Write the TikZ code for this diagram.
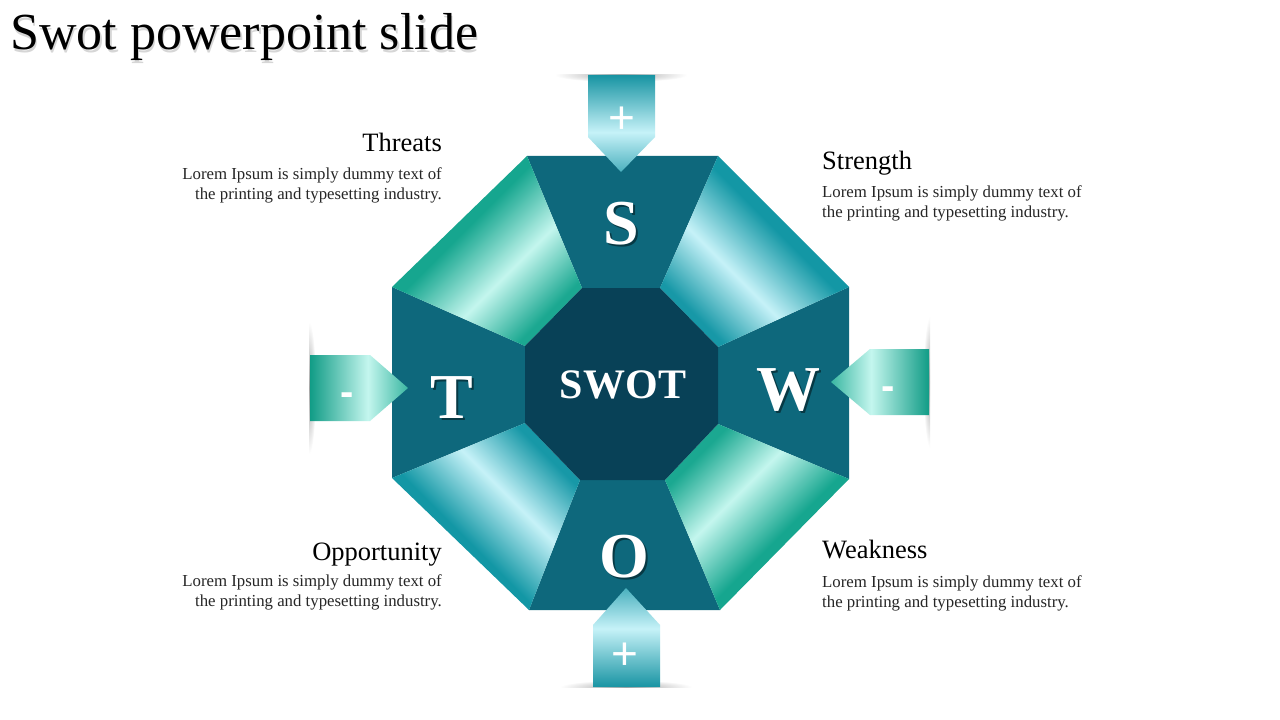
\documentclass[tikz,border=0pt]{standalone}
\usepackage{fontspec}
\setmainfont{Liberation Serif}
\newfontfamily\signfont{Liberation Sans}
\usetikzlibrary{calc}
\definecolor{segdark}{HTML}{0E687C}
\definecolor{coredark}{HTML}{084157}
\definecolor{greenband}{HTML}{16A68F}
\definecolor{greenin}{HTML}{1BA891}
\definecolor{greenlight}{HTML}{C4F6EE}
\definecolor{tealband}{HTML}{1397A5}
\definecolor{tealin}{HTML}{1798A7}
\definecolor{teallight}{HTML}{C6F2F8}
\definecolor{tabteal}{HTML}{1894A3}
\definecolor{tabtealtip}{HTML}{4AB0BE}
\definecolor{tabgreen}{HTML}{119C86}
\definecolor{tabgreentip}{HTML}{3AB7A2}
\definecolor{bodygray}{HTML}{262626}
% wings: inner edge about 33bp, highlight 42bp, outer edge 57.5bp
\pgfdeclareverticalshading{greenwing}{100bp}{color(0bp)=(greenin); color(27bp)=(greenin); color(42bp)=(greenlight); color(58bp)=(greenband); color(100bp)=(greenband)}
\pgfdeclareverticalshading{tealwing}{100bp}{color(0bp)=(tealin); color(27bp)=(tealin); color(42bp)=(teallight); color(58bp)=(tealband); color(100bp)=(tealband)}
% tabs: tip 25bp, highlight 45.5bp, back end 75bp
\pgfdeclareverticalshading{tealtab}{100bp}{color(0bp)=(tabtealtip); color(25bp)=(tabtealtip); color(45.5bp)=(teallight); color(75bp)=(tabteal); color(100bp)=(tabteal)}
\pgfdeclareverticalshading{greentab}{100bp}{color(0bp)=(tabgreentip); color(25bp)=(tabgreentip); color(45.5bp)=(greenlight); color(75bp)=(tabgreen); color(100bp)=(tabgreen)}
\newcommand{\titlefont}{\fontsize{52bp}{56bp}\selectfont}
\newcommand{\headfont}{\fontsize{26.5bp}{30bp}\selectfont}
\newcommand{\bodyfont}{\fontsize{16.8bp}{20.3bp}\selectfont}
\newcommand{\letterfont}{\fontsize{64bp}{64bp}\selectfont\bfseries}
\tikzset{
  bigletter/.style={anchor=base, inner sep=0, text=white, font=\letterfont},
  letterdrop/.style={anchor=base, inner sep=0, text=black, opacity=0.45, font=\letterfont},
  headtext/.style={inner sep=0, text=black, font=\headfont},
  bodytext/.style={inner sep=0, text=bodygray, font=\bodyfont},
  signtext/.style={inner sep=0, text=white, font=\signfont\fontsize{46bp}{46bp}\selectfont},
  minustext/.style={inner sep=0, text=white, font=\signfont\bfseries\fontsize{40bp}{40bp}\selectfont},
  tabdrop/.style={inner color=black!35, outer color=white}
}

\begin{document}
\begin{tikzpicture}[x=1bp,y=-1bp]
\fill[white] (0,0) rectangle (1280,720);
\useasboundingbox (0,0) rectangle (1280,720);
%title
\node[anchor=base west, inner sep=0, text=black!16, font=\titlefont] (title-drop) at (11.5,52.5) {Swot powerpoint slide};
\node[anchor=base west, inner sep=0, text=black, font=\titlefont] (title) at (10,50) {Swot powerpoint slide};
%outer octagon
\coordinate (o1) at (527,156);
\coordinate (o2) at (718,156);
\coordinate (o3) at (849,287);
\coordinate (o4) at (849,479);
\coordinate (o5) at (720,610);
\coordinate (o6) at (529,610);
\coordinate (o7) at (392,478);
\coordinate (o8) at (392,287);
%inner octagon
\coordinate (i1) at (582,288);
\coordinate (i2) at (660,288);
\coordinate (i3) at (718,347);
\coordinate (i4) at (718,424);
\coordinate (i5) at (665,480);
\coordinate (i6) at (580,480);
\coordinate (i7) at (525,423);
\coordinate (i8) at (525,346);
%S W O T
\fill[segdark] (o1) -- (o2) -- (i2) -- (i1) -- cycle;
\fill[segdark] (o3) -- (o4) -- (i4) -- (i3) -- cycle;
\fill[segdark] (o5) -- (o6) -- (i6) -- (i5) -- cycle;
\fill[segdark] (o7) -- (o8) -- (i8) -- (i7) -- cycle;
%wings
\shade[shading=tealwing, shading angle=-45] (o2) -- (o3) -- (i3) -- (i2) -- cycle;
\shade[shading=greenwing, shading angle=-135] (o4) -- (o5) -- (i5) -- (i4) -- cycle;
\shade[shading=tealwing, shading angle=135] (o6) -- (o7) -- (i7) -- (i6) -- cycle;
\shade[shading=greenwing, shading angle=45] (o8) -- (o1) -- (i1) -- (i8) -- cycle;
%core
\fill[coredark] (i1) -- (i2) -- (i3) -- (i4) -- (i5) -- (i6) -- (i7) -- (i8) -- cycle;
%tab shadows
\begin{scope}
\clip (540,75) rectangle (700,95);
\shade[tabdrop] (621,75) ellipse (66 and 7);
\end{scope}
\begin{scope}
\clip (540,687) rectangle (710,670);
\shade[tabdrop] (626,687) ellipse (66 and 7);
\end{scope}
\begin{scope}
\clip (309,310) rectangle (330,470);
\shade[tabdrop] (309,388) ellipse (7 and 66);
\end{scope}
\begin{scope}
\clip (930,300) rectangle (905,470);
\shade[tabdrop] (930,382) ellipse (7 and 66);
\end{scope}
%tabs
\shade[shading=tealtab, shading angle=0] (588,75) -- (655,75) -- (655,137) -- (621,172) -- (588,137) -- cycle;
\shade[shading=tealtab, shading angle=180] (593,687) -- (660,687) -- (660,625) -- (626,588) -- (593,625) -- cycle;
\shade[shading=greentab, shading angle=90] (310,355) -- (370,355) -- (408,388) -- (370,421) -- (310,421) -- cycle;
\shade[shading=greentab, shading angle=-90] (929,349) -- (870,349) -- (831,382) -- (870,415) -- (929,415) -- cycle;
\node[signtext] (plus-top) at (622,120) {+};
\node[signtext] (plus-bottom) at (625,656) {+};
\node[minustext] (minus-left) at (347,399) {-};
\node[minustext] (minus-right) at (888,393) {-};
%letters
\node[letterdrop] (S-drop) at (623,247) {S};
\node[bigletter] (S) at (621,245) {S};
\node[letterdrop] (W-drop) at (790,412) {W};
\node[bigletter] (W) at (788,410) {W};
\node[letterdrop] (T-drop) at (454,420) {T};
\node[bigletter] (T) at (452,418) {T};
\node[letterdrop] (O-drop) at (626,579) {O};
\node[bigletter] (O) at (624,577) {O};
\node[anchor=base, inner sep=0, text=white, font=\fontsize{42bp}{42bp}\selectfont\bfseries] (swot) at (623,398) {SWOT};
%texts
\node[headtext, anchor=base east] (threats) at (442,152) {Threats};
\node[bodytext, anchor=north east, align=right] (threats-body) at (442,167.5) {Lorem Ipsum is simply dummy text of\\the printing and typesetting industry.};
\node[headtext, anchor=base west] (strength) at (822,170) {Strength};
\node[bodytext, anchor=north west, align=left] (strength-body) at (822,185.5) {Lorem Ipsum is simply dummy text of\\the printing and typesetting industry.};
\node[headtext, anchor=base east] (opportunity) at (442,560) {Opportunity};
\node[bodytext, anchor=north east, align=right] (opportunity-body) at (442,574.5) {Lorem Ipsum is simply dummy text of\\the printing and typesetting industry.};
\node[headtext, anchor=base west] (weakness) at (822,558) {Weakness};
\node[bodytext, anchor=north west, align=left] (weakness-body) at (822,575) {Lorem Ipsum is simply dummy text of\\the printing and typesetting industry.};
\end{tikzpicture}
\end{document}
